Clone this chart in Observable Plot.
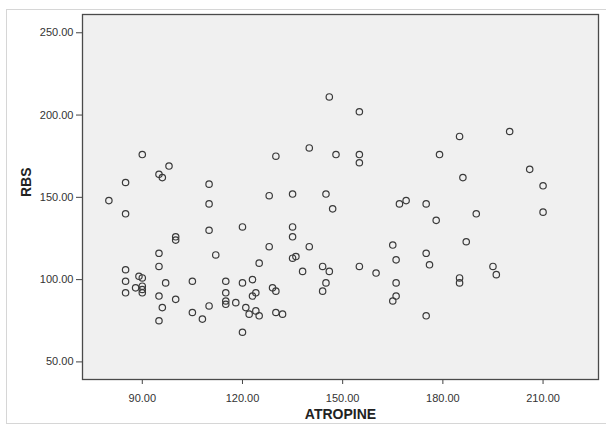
<!DOCTYPE html>
<html>
<head>
<meta charset="utf-8">
<script src="https://cdn.jsdelivr.net/npm/d3@7"></script>
<script src="https://cdn.jsdelivr.net/npm/@observablehq/plot@0.6"></script>
<style>
  html, body { margin: 0; padding: 0; background: #fff; }
  #wrap { position: relative; width: 606px; height: 426px; overflow: hidden; }
  #border { position: absolute; left: 6px; top: 9px; width: 700px; height: 413px;
            border: 1px solid #d6d6d6; border-right: none; pointer-events: none; }
  #chart { position: absolute; left: 0; top: 0; }
</style>
</head>
<body>
<div id="wrap"><div id="border"></div><div id="chart"></div></div>
<script>
// ATROPINE (x) and RBS (y) values
const atropine = [
  80,
  85, 85, 85, 85, 85,
  88, 89,
  90, 90, 90, 90, 90,
  95, 95, 95, 95, 95,
  96, 96, 97, 98,
  100, 100, 100,
  105, 105, 108,
  110, 110, 110, 110,
  112,
  115, 115, 115, 115,
  118,
  120, 120, 120,
  121, 122, 123, 123, 124, 124, 125, 125,
  128, 128, 129,
  130, 130, 130, 132,
  135, 135, 135, 135, 136, 138,
  140, 140,
  144, 144, 145, 145, 146, 146, 147, 148,
  155, 155, 155, 155,
  160,
  165, 165, 166, 166, 166, 167, 169,
  175, 175, 175, 176, 178, 179,
  185, 185, 185, 186, 187,
  190, 195, 196, 200, 206, 210, 210
];
const rbs = [
  148,
  159, 140, 106, 99, 92,
  95, 102,
  176, 101, 96, 94, 92,
  164, 116, 108, 90, 75,
  162, 83, 98, 169,
  126, 124, 88,
  99, 80, 76,
  158, 146, 130, 84,
  115,
  99, 92, 87, 85,
  86,
  132, 98, 68,
  83, 79, 100, 90, 92, 81, 110, 78,
  151, 120, 95,
  175, 93, 80, 79,
  152, 132, 126, 113, 114, 105,
  180, 120,
  108, 93, 152, 98, 211, 105, 143, 176,
  202, 176, 171, 108,
  104,
  121, 87, 112, 98, 90, 146, 148,
  146, 116, 78, 109, 136, 176,
  187, 101, 98, 162, 123,
  140, 108, 103, 190, 167, 157, 141
];
const xTicks = [90, 120, 150, 180, 210];
const yTicks = [50, 100, 150, 200, 250];
const xTitle = "ATROPINE";
const yTitle = "RBS";

const data = atropine.map((a, i) => ({atropine: a, rbs: rbs[i]}));

const chart = Plot.plot({
  width: 606,
  height: 426,
  marginLeft: 82,
  marginRight: 8,
  marginTop: 14,
  marginBottom: 47,
  style: {fontFamily: "'Liberation Sans', Arial, sans-serif", fontSize: "11px", color: "#333", background: "transparent"},
  x: {domain: [72.1, 226.6]},
  y: {domain: [39.3, 261.1]},
  marks: [
    Plot.frame({fill: "#f0f0f0", stroke: "none"}),
    Plot.axisX({ticks: xTicks, tickFormat: d3.format(".2f"), tickSize: 5, tickPadding: 10, label: null, stroke: "#444", fill: "#333", fontSize: 11}),
    Plot.axisY({ticks: yTicks, tickFormat: d3.format(".2f"), tickSize: 6, tickPadding: 3, label: null, stroke: "#444", fill: "#333", fontSize: 11}),
    Plot.dot(data, {x: "atropine", y: "rbs", r: 3.2, stroke: "#3a3a3a", strokeWidth: 1.2, fill: "none"}),
    Plot.frame({stroke: "#4a4a4a", strokeWidth: 1.3, fill: "none"}),
    Plot.text([xTitle], {frameAnchor: "bottom", dy: 35, lineAnchor: "middle", fontWeight: "bold", fontSize: 14, fill: "#222"}),
    Plot.text([yTitle], {frameAnchor: "left", dx: -56, rotate: -90, lineAnchor: "middle", fontWeight: "bold", fontSize: 14, fill: "#222"})
  ]
});
document.getElementById("chart").appendChild(chart);
</script>
</body>
</html>
